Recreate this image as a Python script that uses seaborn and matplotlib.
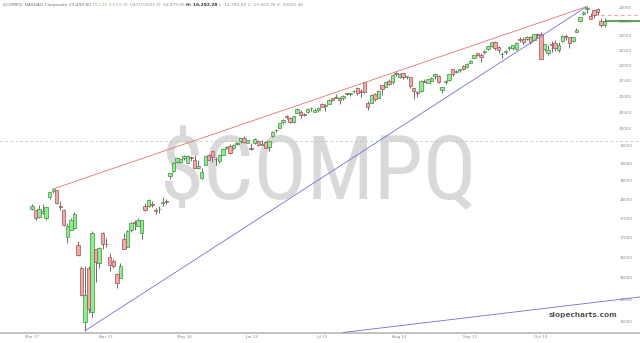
import numpy as np
import pandas as pd
import matplotlib
matplotlib.use("Agg")
import matplotlib.pyplot as plt
import seaborn as sns
from matplotlib import font_manager
from matplotlib.ticker import FixedLocator, FixedFormatter, NullLocator, NullFormatter

# ---------------- data ----------------
START, END = "2025-03-17", "2025-11-05"
HOLIDAYS = ["2025-04-18", "2025-05-26", "2025-06-19", "2025-07-04", "2025-09-01", "2025-11-27"]

opens = [17740, 17700, 17540, 17620, 17500, 18050, 18220, 18240, 17830, 17720, 17000,
         17200, 17250, 16800, 16230, 14980, 16250, 15200, 16700, 16350, 17100, 16830, 16510, 16400,
         16100, 16000, 16960, 16760, 17180, 17400, 17300, 17100,
         17830, 17830, 17870, 17700, 17730, 17900, 17960, 18630, 18770, 19030, 19030, 19150, 19000,
         19170, 19100, 18850, 18580, 18950, 19230, 19350, 19120,
         19060, 19240, 19430, 19480, 19440, 19560, 19630, 19740, 19590, 19440, 19570, 19650, 19520,
         19610, 19450, 19780, 19970, 20030, 20220, 20380,
         20330, 20200, 20490, 20520, 20450, 20500, 20620, 20520, 20570, 20760, 20700, 20750, 20950,
         20940, 20960, 20960, 21090, 21080, 21160, 21260, 21160, 21460,
         20800, 20800, 21060, 20950, 21340, 21300, 21470, 21450, 21750, 21620, 21730, 21610, 21600,
         21250, 21120, 21150, 21480, 21430, 21500, 21630, 21660,
         21200, 21440, 21530, 21860, 21760, 21830, 21980, 21940, 22060, 22250, 22390, 22320, 22450,
         22540, 22630, 22790, 22610, 22380, 22430, 22560, 22580,
         22540, 22870, 22880, 22870, 22960, 22850, 23040, 23050, 22530, 22400, 22700, 22750, 22500,
         22800, 22980, 22930, 22800, 23130, 23500, 23750, 23920, 23680, 23880,
         23920, 23500, 23350]
highs = [17880, 17720, 17850, 17870, 17800, 18190, 18280, 18250, 17960, 17740, 17370,
         17500, 17650, 16900, 16280, 16292, 16300, 17160, 16720, 16760, 17130, 16980, 16600, 16450,
         16120, 16360, 17110, 17180, 17390, 17450, 17490, 17460,
         17900, 18010, 17950, 17760, 17830, 18050, 18000, 18710, 19020, 19160, 19130, 19220, 19220,
         19190, 19240, 19080, 18850, 19210, 19260, 19360, 19160,
         19260, 19430, 19490, 19560, 19560, 19620, 19720, 19800, 19670, 19570, 19740, 19680, 19680,
         19640, 19640, 19930, 20000, 20180, 20300, 20420,
         20370, 20400, 20620, 20570, 20490, 20640, 20660, 20620, 20650, 20800, 20760, 20900, 20960,
         21080, 20970, 21030, 21110, 21110, 21200, 21280, 21240, 21460,
         20860, 21060, 21090, 21190, 21360, 21460, 21540, 21690, 21800, 21740, 21730, 21660, 21620,
         21270, 21180, 21530, 21550, 21560, 21620, 21740, 21670,
         21300, 21520, 21710, 21880, 21830, 21880, 22000, 22060, 22180, 22350, 22400, 22390, 22520,
         22650, 22790, 22800, 22640, 22450, 22520, 22640, 22670,
         22770, 22930, 22960, 22990, 22980, 23050, 23070, 23120, 22720, 22680, 22800, 22850, 22760,
         23000, 23050, 22940, 22960, 23260, 23640, 23850, 24019, 23780, 23900,
         23950, 23600, 23600]
lows = [17700, 17450, 17510, 17600, 17450, 18000, 18180, 17860, 17700, 17290, 16850,
        17180, 17220, 16540, 15570, 14784, 15190, 15100, 15900, 16250, 16700, 16770, 16160, 16250,
        15750, 15990, 16700, 16750, 17140, 17200, 17300, 16970,
        17680, 17800, 17790, 17600, 17640, 17830, 17880, 18560, 18750, 18990, 18990, 19080, 18990,
        19070, 18850, 18830, 18560, 18950, 19090, 19040, 18950,
        18990, 19220, 19400, 19250, 19400, 19530, 19580, 19580, 19570, 19370, 19560, 19500, 19510,
        19420, 19350, 19770, 19910, 20020, 20160, 20300,
        20180, 20180, 20480, 20330, 20380, 20480, 20530, 20500, 20520, 20660, 20540, 20750, 20850,
        20930, 20770, 20880, 21030, 21000, 21100, 21050, 20980, 21090,
        20560, 20790, 20860, 20930, 21050, 21300, 21350, 21400, 21640, 21590, 21560, 21550, 21250,
        20900, 20990, 21120, 21440, 21410, 21490, 21560, 21410,
        21100, 21400, 21480, 21630, 21730, 21770, 21830, 21920, 22060, 22230, 22300, 22110, 22360,
        22500, 22610, 22520, 22420, 22230, 22370, 22510, 22500,
        22520, 22770, 22720, 22840, 22720, 22840, 22920, 22200, 22480, 22330, 22450, 22470, 22450,
        22790, 22840, 22580, 22780, 23120, 23480, 23700, 23800, 23560, 23620,
        23700, 23280, 23300]
closes = [17808, 17504, 17750, 17691, 17784, 18188, 18271, 17899, 17804, 17323, 17299,
          17450, 17601, 16551, 15588, 15603, 15268, 17125, 16387, 16724, 16832, 16824, 16307, 16287,
          15871, 16300, 16708, 17166, 17383, 17366, 17461, 17446,
          17710, 17977, 17844, 17690, 17738, 17928, 17929, 18708, 19010, 19146, 19112, 19211, 19215,
          19143, 18873, 18926, 18737, 19200, 19100, 19175, 19114,
          19243, 19399, 19460, 19298, 19530, 19591, 19715, 19615, 19662, 19407, 19701, 19521, 19546,
          19447, 19631, 19913, 19973, 20168, 20273, 20370,
          20202, 20394, 20601, 20412, 20418, 20611, 20630, 20586, 20640, 20677, 20730, 20885, 20896,
          20974, 20893, 21020, 21057, 21108, 21179, 21098, 21130, 21122,
          20650, 21053, 20916, 21169, 21243, 21450, 21385, 21682, 21713, 21710, 21623, 21630, 21315,
          21172, 21100, 21497, 21449, 21544, 21590, 21705, 21456,
          21280, 21498, 21708, 21700, 21799, 21879, 21886, 22043, 22141, 22349, 22333, 22261, 22470,
          22631, 22789, 22573, 22497, 22384, 22484, 22591, 22660,
          22755, 22845, 22780, 22941, 22788, 23043, 23024, 22204, 22695, 22521, 22670, 22562, 22680,
          22991, 22953, 22740, 22942, 23205, 23637, 23827, 23958, 23581, 23725,
          23835, 23349, 23499.80]

red_trend_dates = ["2025-03-25", "2025-10-29"]
red_trend_prices = [18280, 24019]
blue_trend_dates = ["2025-04-07", "2025-10-29"]
blue_trend_prices = [14784, 24019]
lower_trend_dates = ["2025-07-23", "2025-11-19"]
lower_trend_prices = [14745, 15550]

support_level = 19637
resist_level = 23714
resist_from = "2025-10-31"
last_close = 23499.80
last_date = "2025-11-05"

y_ticks = [15000, 15500, 16000, 16500, 17000, 17500, 18000, 18500, 19000, 19500,
           20000, 20500, 21000, 21500, 22000, 22500, 23000, 23500, 24000]
x_tick_dates = ["2025-03-17", "2025-04-15", "2025-05-16", "2025-06-13",
                "2025-07-15", "2025-08-14", "2025-09-12", "2025-10-10"]

header_parts = [
    ("$COMPQ: NASDAQ Composite 23,499.80 ", "#707070", "normal"),
    ("151.16 0.65% ", "#8fb88f", "normal"),
    ("D: 04/07/2025 O: 14,979.05 ", "#909090", "normal"),
    ("H: 16,292.28 ", "#333333", "bold"),
    ("L: 14,784.00 C: 15,603.26 V: 33922.46", "#909090", "normal"),
]
watermark = "$COMPQ"
brand = "slopecharts.com"

# ---------------- helpers ----------------
def tidx(d):
    return int(np.busday_count(START, d, holidays=HOLIDAYS))

dates = [d for d in pd.bdate_range(START, END) if d.strftime("%Y-%m-%d") not in HOLIDAYS]
df = pd.DataFrame({"date": dates, "o": opens, "h": highs, "l": lows, "c": closes})
df["x"] = np.arange(len(df))

# ---------------- style ----------------
sns.set_theme(style="white")
plt.rcParams["font.family"] = ["DejaVu Sans"]
names = {f.name for f in font_manager.fontManager.ttflist}
wm_font = "DejaVu Sans"
for cand in ["Liberation Sans Narrow", "Roboto Condensed", "Open Sans Condensed", "Liberation Sans"]:
    if cand in names:
        wm_font = cand
        break

W, H = 640, 343
fig = plt.figure(figsize=(W / 100, H / 100), dpi=100)
ax = fig.add_axes([0, 10 / H, 1, 333 / H])
ax.set_facecolor("white")

# watermark
ax.text(0.497, (333 - 199) / 333, watermark, transform=ax.transAxes, ha="center", va="baseline",
        fontsize=64, color="#d9d9d9", family=wm_font, zorder=0)

# candles
GREEN_FILL, GREEN_EDGE = "#8fec8f", "#3f8f3f"
RED_FILL, RED_EDGE = "#f0a8a8", "#9a5252"
up = (df.c >= df.o).values
lo = np.minimum(df.o, df.c).values
hi = np.maximum(df.o, df.c).values
hgt = np.maximum(hi - lo, lo * 0.0003)
ax.vlines(df.x, df.l, df.h, color="#555555", lw=0.6, zorder=2)
ax.bar(df.x[up], hgt[up], bottom=lo[up], width=0.95, color=GREEN_FILL,
       edgecolor=GREEN_EDGE, linewidth=0.5, zorder=3)
ax.bar(df.x[~up], hgt[~up], bottom=lo[~up], width=0.95, color=RED_FILL,
       edgecolor=RED_EDGE, linewidth=0.5, zorder=3)

# trendlines
sns.lineplot(x=[tidx(d) for d in red_trend_dates], y=red_trend_prices, ax=ax,
             color="#e57373", lw=0.6, zorder=4)
sns.lineplot(x=[tidx(d) for d in blue_trend_dates], y=blue_trend_prices, ax=ax,
             color="#6f6fe0", lw=0.6, zorder=4)
sns.lineplot(x=[tidx(d) for d in lower_trend_dates], y=lower_trend_prices, ax=ax,
             color="#6f6fe0", lw=0.6, zorder=4)

XMIN, XMAX = -9.05, 172.0
ax.axhline(support_level, color="#a8d6a8", lw=0.6, ls=(0, (3, 3)), zorder=1)
ax.hlines(resist_level, tidx(resist_from), XMAX, color="#f2a0a0", lw=0.8, ls=(0, (3, 3)), zorder=1)
ax.hlines(last_close, tidx(last_date), XMAX, color="#2e8b2e", lw=1.1, zorder=4)

# axes
ax.set_yscale("log")
ax.set_ylim(14734, 24253)
ax.set_xlim(XMIN, XMAX)
ax.yaxis.set_major_locator(FixedLocator(y_ticks))
ax.yaxis.set_major_formatter(FixedFormatter([f"{v}" for v in y_ticks]))
ax.yaxis.set_minor_locator(NullLocator())
ax.yaxis.set_minor_formatter(NullFormatter())
ax.tick_params(axis="y", which="both", left=False, right=False, labelleft=False,
               labelright=True, length=0, pad=-15, labelsize=3, labelcolor="#888888")
xt = [tidx(d) for d in x_tick_dates]
ax.set_xticks(xt)
ax.set_xticklabels([pd.Timestamp(d).strftime("%b %d") for d in x_tick_dates])
ax.tick_params(axis="x", length=0, pad=1.5, labelsize=3, labelcolor="#888888")
for s in ["top", "left", "right"]:
    ax.spines[s].set_visible(False)
ax.spines["bottom"].set_color("#b8b8b8")
ax.spines["bottom"].set_linewidth(1.2)
ax.grid(False)
ax.set_xlabel("")
ax.set_ylabel("")

# header
prev = None
for txt, col, wt in header_parts:
    if prev is None:
        prev = ax.text(3 / W, (333 - 5) / 333, txt, transform=ax.transAxes, ha="left",
                       va="center", fontsize=3.15, color=col, fontweight=wt)
    else:
        prev = ax.annotate(txt, xy=(1, 0), xycoords=prev, ha="left", va="bottom",
                           fontsize=3.15, color=col, fontweight=wt)

ax.text(583 / W, (333 - 315) / 333, brand, transform=ax.transAxes, ha="center", va="center",
        fontsize=5.3, color="#555555", fontweight="semibold")

fig.savefig("out.png", dpi=100)
